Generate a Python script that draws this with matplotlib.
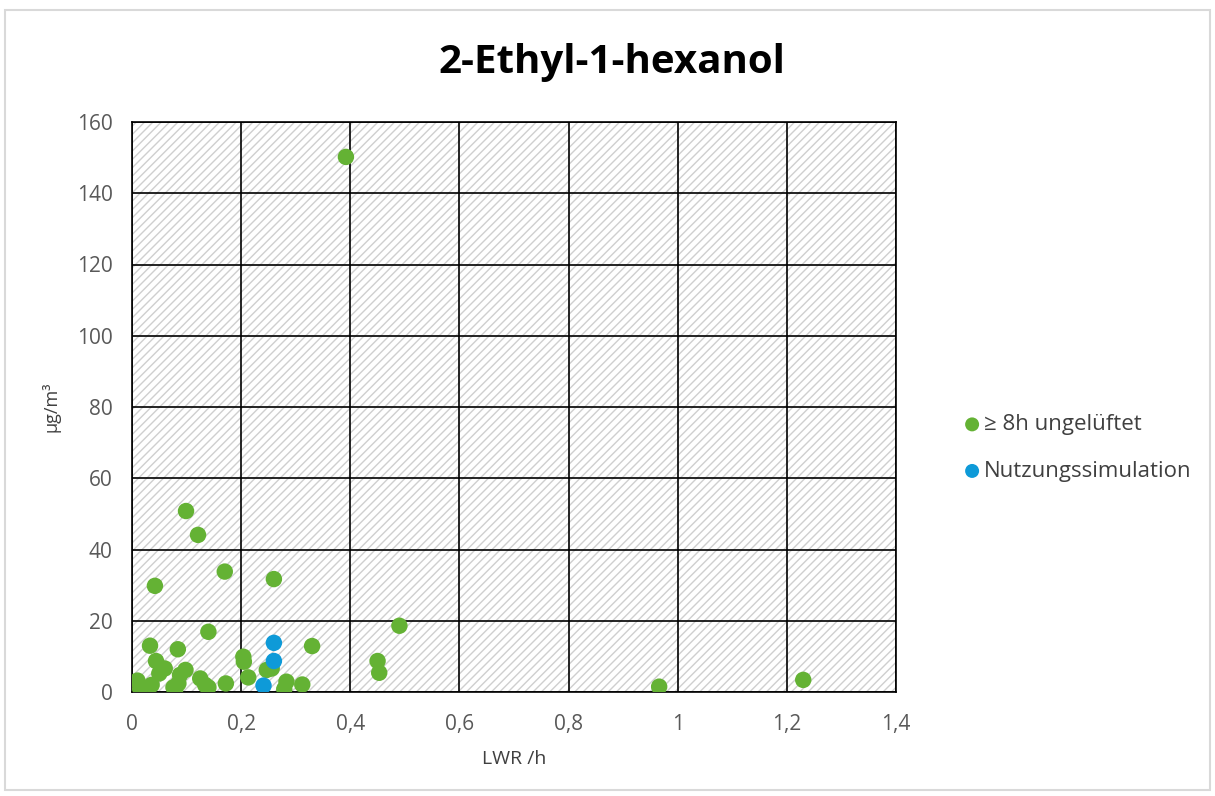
import matplotlib
matplotlib.use("Agg")
import matplotlib.pyplot as plt
from matplotlib.patches import Rectangle
from matplotlib.ticker import FuncFormatter, MultipleLocator

plt.rcParams['font.family'] = ['Open Sans', 'DejaVu Sans']
plt.rcParams['hatch.linewidth'] = 1.0
plt.rcParams['hatch.color'] = '#CFCFCF'

title = "2-Ethyl-1-hexanol"
x_label = "LWR /h"
y_label = "µg/m³"

# ≥ 8h ungelüftet
unvent_lwr = [0.392, 0.099, 0.121, 0.042, 0.170, 0.260, 0.140, 0.033, 0.084,
              0.330, 0.044, 0.060, 0.050, 0.098, 0.088, 0.204, 0.205, 0.213,
              0.247, 0.256, 0.283, 0.279, 0.312, 0.172, 0.125, 0.140, 0.134,
              0.010, 0.015, 0.036, 0.076, 0.085, 0.079, 0.490, 0.450, 0.453,
              0.966, 1.230]
unvent_conc = [150.2, 50.8, 44.1, 29.8, 33.8, 31.7, 16.9, 13.0, 12.0,
               12.9, 8.7, 6.6, 5.2, 6.2, 4.8, 9.9, 8.5, 4.1,
               6.2, 6.6, 2.9, 0.8, 2.1, 2.4, 3.8, 1.3, 2.0,
               3.2, 0.9, 2.0, 1.3, 2.4, 0.6, 18.6, 8.7, 5.4,
               1.5, 3.4]

# Nutzungssimulation
sim_lwr = [0.260, 0.260, 0.241]
sim_conc = [13.8, 8.7, 1.8]

green = '#64B234'
blue = '#0E9AD8'

fig = plt.figure(figsize=(12.15, 7.96), dpi=100)
ax = fig.add_axes([132/1215, 1 - 692/796, (896-132)/1215, (692-122)/796])

ax.set_xlim(0, 1.4)
ax.set_ylim(0, 160)

# hatched plot area
ax.add_patch(Rectangle((0, 0), 1, 1, transform=ax.transAxes, facecolor='white',
                       edgecolor='#CFCFCF', hatch='////', linewidth=0, zorder=0))

ax.xaxis.set_major_locator(MultipleLocator(0.2))
ax.yaxis.set_major_locator(MultipleLocator(20))
ax.grid(True, color='black', linewidth=1.2, zorder=1)
ax.set_axisbelow(True)
for s in ax.spines.values():
    s.set_color('black')
    s.set_linewidth(1.2)

ax.xaxis.set_major_formatter(FuncFormatter(
    lambda v, p: ('%g' % round(v, 1)).replace('.', ',')))
ax.tick_params(axis='both', length=0, labelsize=15, labelcolor='#595959')
ax.tick_params(axis='x', pad=16)
ax.tick_params(axis='y', pad=14)

ax.scatter(unvent_lwr, unvent_conc, s=140, color=green, edgecolors='none',
           zorder=3, label='≥ 8h ungelüftet')
ax.scatter(sim_lwr, sim_conc, s=140, color=blue, edgecolors='none',
           zorder=3, label='Nutzungssimulation')

ax.set_xlabel(x_label, fontsize=14, color='#404040', labelpad=11)
ax.set_ylabel(y_label, fontsize=13, color='#404040', labelpad=12)

fig.text(612/1215, 1 - 63/796, title, ha='center', va='center',
         fontsize=29, fontweight='bold', color='black')

leg = ax.legend(loc='center left', bbox_to_anchor=(941/1215, 1 - 448/796),
                bbox_transform=fig.transFigure, frameon=False, fontsize=16,
                handletextpad=0.05, labelspacing=1.15, handlelength=1.0,
                markerscale=0.85)
for t in leg.get_texts():
    t.set_color('#404040')

# outer chart border
fig.add_artist(Rectangle((5/1215, 1 - 790/796), 1205/1215, 780/796,
                         transform=fig.transFigure, facecolor='none',
                         edgecolor='#D9D9D9', linewidth=1.5))

fig.savefig('out.png', dpi=100)
